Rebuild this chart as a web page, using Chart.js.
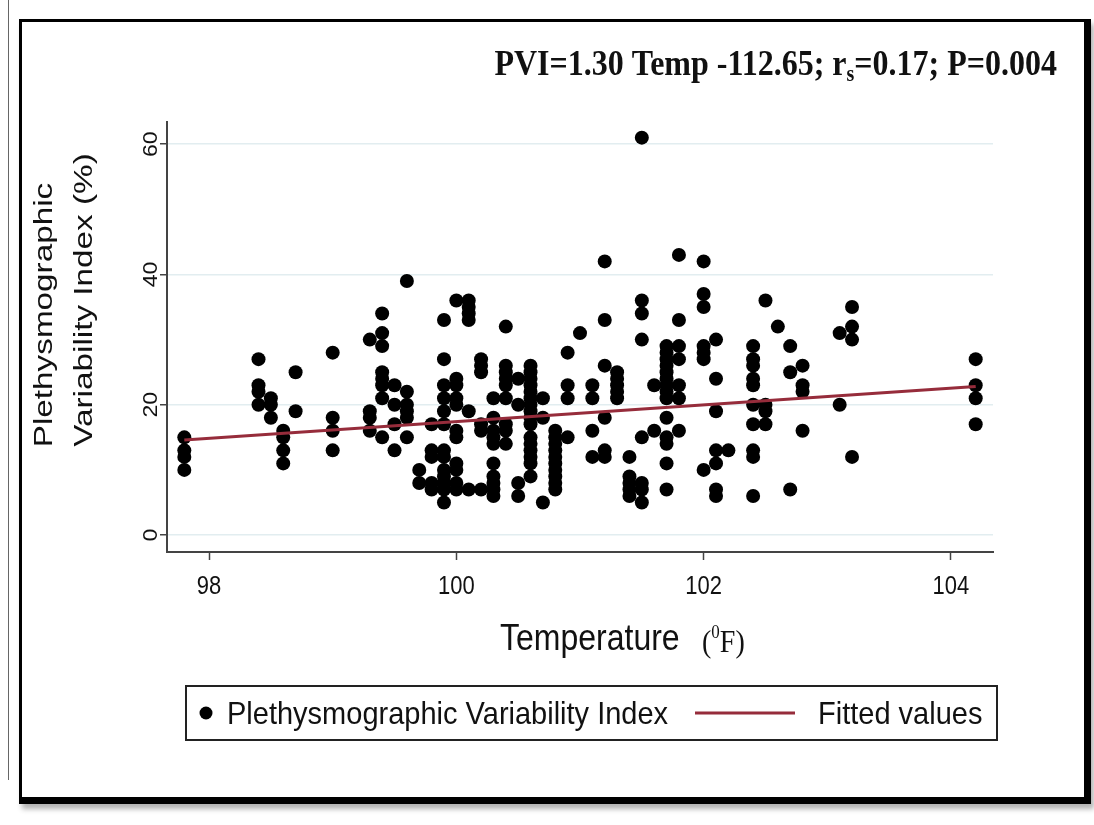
<!DOCTYPE html>
<html>
<head>
    <title>PVI vs Temperature</title>
    <script src="https://cdn.jsdelivr.net/npm/chart.js"></script>
    <style>
        body { margin: 0; background: #fff; }
        #chart { position: absolute; left: 0; top: 0; }
        .frame {
            position: absolute; left: 19px; top: 19px; width: 1062px; height: 775px;
            border-style: solid; border-color: #000;
            border-width: 3px 7px 7px 3px;
            box-shadow: 3px 5px 5px rgba(0,0,0,0.3);
            pointer-events: none;
        }
        .edge { position: absolute; left: 8px; top: 0; width: 1px; height: 780px; background: #666; }
    </style>
</head>
<body>
    <canvas id="chart" width="1094" height="825"></canvas>
    <div class="edge"></div>
    <div class="frame"></div>

    <script>
        // Temperature columns (deg F) and the PVI values read at each one
        const tempColumns = [97.8, 98.4, 98.5, 98.6, 98.7, 99.0, 99.3, 99.4, 99.5, 99.6, 99.7, 99.8, 99.9,
            100.0, 100.1, 100.2, 100.3, 100.4, 100.5, 100.6, 100.7, 100.8, 100.9, 101.0, 101.1, 101.2,
            101.3, 101.4, 101.5, 101.6, 101.7, 101.8, 102.0, 102.1, 102.2, 102.4, 102.5, 102.6, 102.7,
            102.8, 103.1, 103.2, 104.2];
        const pviColumns = [
            [15, 13, 12, 10],
            [27, 23, 22, 20],
            [21, 20, 18],
            [16, 15, 13, 11],
            [25, 19],
            [28, 18, 16, 13],
            [30, 19, 18, 16],
            [34, 31, 29, 25, 24, 23, 21, 15],
            [23, 20, 17, 13],
            [39, 22, 20, 19, 18, 15],
            [10, 8],
            [17, 13, 12, 8, 7],
            [33, 27, 23, 21, 19, 17, 13, 12, 10, 9, 8, 7, 5],
            [36, 24, 23, 21, 20, 16, 15, 11, 10, 8, 7],
            [36, 35, 34, 33, 19, 7],
            [27, 26, 25, 17, 16, 7],
            [21, 18, 16, 15, 14, 11, 9, 8, 7, 6],
            [32, 26, 25, 24, 23, 21, 17, 16, 14],
            [24, 20, 8, 6],
            [26, 25, 24, 23, 22, 21, 20, 19, 18, 17, 15, 14, 13, 12, 11, 9],
            [21, 18, 5],
            [16, 15, 14, 13, 12, 11, 10, 9, 8, 7],
            [28, 23, 21, 15],
            [31],
            [23, 21, 16, 12],
            [42, 33, 26, 18, 13, 12],
            [25, 24, 23, 22, 21],
            [12, 9, 8, 7, 6],
            [61, 36, 34, 30, 15, 8, 7, 5],
            [23, 16],
            [29, 28, 27, 26, 25, 24, 23, 22, 21, 18, 15, 14, 11, 7],
            [43, 33, 29, 27, 23, 21, 16],
            [42, 37, 35, 29, 28, 27, 10],
            [30, 24, 19, 13, 11, 7, 6],
            [13],
            [29, 27, 26, 24, 23, 20, 17, 13, 12, 6],
            [36, 20, 19, 17],
            [32],
            [29, 25, 7],
            [26, 23, 22, 16],
            [31, 20],
            [35, 32, 30, 12],
            [27, 23, 21, 17]
        ];

        // fitted line end points
        const fitTemps = [97.8, 104.2];
        const fitValues = [14.6, 22.8];

        const xTicks = [98, 100, 102, 104];
        const yTicks = [0, 20, 40, 60];

        const titleHead = 'PVI=1.30 Temp -112.65; r';
        const titleSub = 's';
        const titleTail = '=0.17; P=0.004';

        const fitColor = '#962c3b';
        const SANS = '"Liberation Sans", Arial, sans-serif';
        const SERIF = '"Liberation Serif", "Times New Roman", serif';

        const points = [];
        tempColumns.forEach((t, i) => pviColumns[i].forEach(v => points.push({ x: t, y: v })));
        const fitLine = fitTemps.map((t, i) => ({ x: t, y: fitValues[i] }));

        function drawText(ctx, str, x, y, font, o) {
            o = o || {};
            ctx.save();
            ctx.translate(x, y);
            if (o.rot) ctx.rotate(o.rot);
            ctx.scale(o.sx || 1, o.sy || 1);
            ctx.font = font;
            ctx.textAlign = o.align || 'left';
            ctx.textBaseline = 'alphabetic';
            ctx.fillText(str, 0, 0);
            ctx.restore();
        }

        function textWidth(ctx, str, font) {
            ctx.save();
            ctx.font = font;
            const w = ctx.measureText(str).width;
            ctx.restore();
            return w;
        }

        const decorations = {
            id: 'decorations',
            afterDraw(chart) {
                const ctx = chart.ctx;
                const xs = chart.scales.x, ys = chart.scales.y;
                ctx.fillStyle = '#111';

                // tick labels
                xTicks.forEach(v => drawText(ctx, String(v), xs.getPixelForValue(v), 594,
                    '22px ' + SANS, { align: 'center', sy: 1.2 }));
                yTicks.forEach(v => drawText(ctx, String(v), 157, ys.getPixelForValue(v),
                    '21px ' + SANS, { align: 'center', rot: -Math.PI / 2, sx: 1.1 }));

                // axis titles
                drawText(ctx, 'Plethysmographic', 52, 315, '26px ' + SANS,
                    { align: 'center', rot: -Math.PI / 2, sx: 1.28 });
                drawText(ctx, 'Variability Index (%)', 92, 300, '26px ' + SANS,
                    { align: 'center', rot: -Math.PI / 2, sx: 1.28 });

                drawText(ctx, 'Temperature', 500, 650, '32px ' + SANS, { sy: 1.15 });
                drawText(ctx, '(', 702, 652, '28px ' + SERIF, { sy: 1.15 });
                const pw = textWidth(ctx, '(', '28px ' + SERIF);
                drawText(ctx, '0', 702 + pw, 638, '17px ' + SERIF, { sy: 1.15 });
                const zw = textWidth(ctx, '0', '17px ' + SERIF);
                drawText(ctx, 'F)', 702 + pw + zw, 652, '28px ' + SERIF, { sy: 1.15 });

                // statistics title, right aligned
                const tf = 'bold 32px ' + SERIF, sf = 'bold 20px ' + SERIF;
                const w1 = textWidth(ctx, titleHead, tf);
                const w2 = textWidth(ctx, titleSub, sf);
                const w3 = textWidth(ctx, titleTail, tf);
                let tx = 1057 - (w1 + w2 + w3);
                drawText(ctx, titleHead, tx, 75, tf, { sy: 1.15 });
                drawText(ctx, titleSub, tx + w1, 81, sf, { sy: 1.15 });
                drawText(ctx, titleTail, tx + w1 + w2, 75, tf, { sy: 1.15 });

                // legend box
                ctx.save();
                ctx.strokeStyle = '#222';
                ctx.lineWidth = 2;
                ctx.strokeRect(186, 686, 811, 54);
                ctx.beginPath();
                ctx.arc(206, 713, 6.5, 0, Math.PI * 2);
                ctx.fillStyle = '#000';
                ctx.fill();
                ctx.strokeStyle = fitColor;
                ctx.lineWidth = 3;
                ctx.beginPath();
                ctx.moveTo(695, 713);
                ctx.lineTo(795, 713);
                ctx.stroke();
                ctx.restore();
                drawText(ctx, 'Plethysmographic Variability Index', 227, 724, '29px ' + SANS, { sy: 1.05 });
                drawText(ctx, 'Fitted values', 818, 724, '29px ' + SANS, { sy: 1.05 });
            }
        };

        const ctx = document.getElementById('chart').getContext('2d');
        const chart = new Chart(ctx, {
            data: {
                datasets: [
                    {
                        type: 'line',
                        label: 'Fitted values',
                        data: fitLine,
                        borderColor: fitColor,
                        borderWidth: 3,
                        pointRadius: 0,
                        fill: false,
                        order: 0
                    },
                    {
                        type: 'scatter',
                        label: 'Plethysmographic Variability Index',
                        data: points,
                        backgroundColor: '#000',
                        borderWidth: 0,
                        pointRadius: 7,
                        order: 1
                    }
                ]
            },
            options: {
                responsive: false,
                animation: false,
                layout: { padding: { left: 147, top: 122, right: 101, bottom: 253 } },
                plugins: { legend: { display: false }, tooltip: { enabled: false } },
                scales: {
                    x: {
                        type: 'linear',
                        min: 97.66,
                        max: 104.34,
                        afterBuildTicks: s => { s.ticks = xTicks.map(v => ({ value: v })); },
                        afterFit: s => { s.height = 20; },
                        ticks: { display: false },
                        grid: { drawOnChartArea: false, drawTicks: true, tickLength: 8, tickColor: '#444', tickWidth: 1.5 },
                        border: { display: true, color: '#444', width: 2 }
                    },
                    y: {
                        type: 'linear',
                        min: -2.6,
                        max: 63.4,
                        afterBuildTicks: s => { s.ticks = yTicks.map(v => ({ value: v })); },
                        afterFit: s => { s.width = 20; },
                        ticks: { display: false },
                        grid: { color: '#e2edf0', lineWidth: 1.5, drawTicks: true, tickLength: 7, tickColor: '#444', tickWidth: 1.5 },
                        border: { display: true, color: '#444', width: 2 }
                    }
                }
            },
            plugins: [decorations]
        });
    </script>
</body>
</html>
